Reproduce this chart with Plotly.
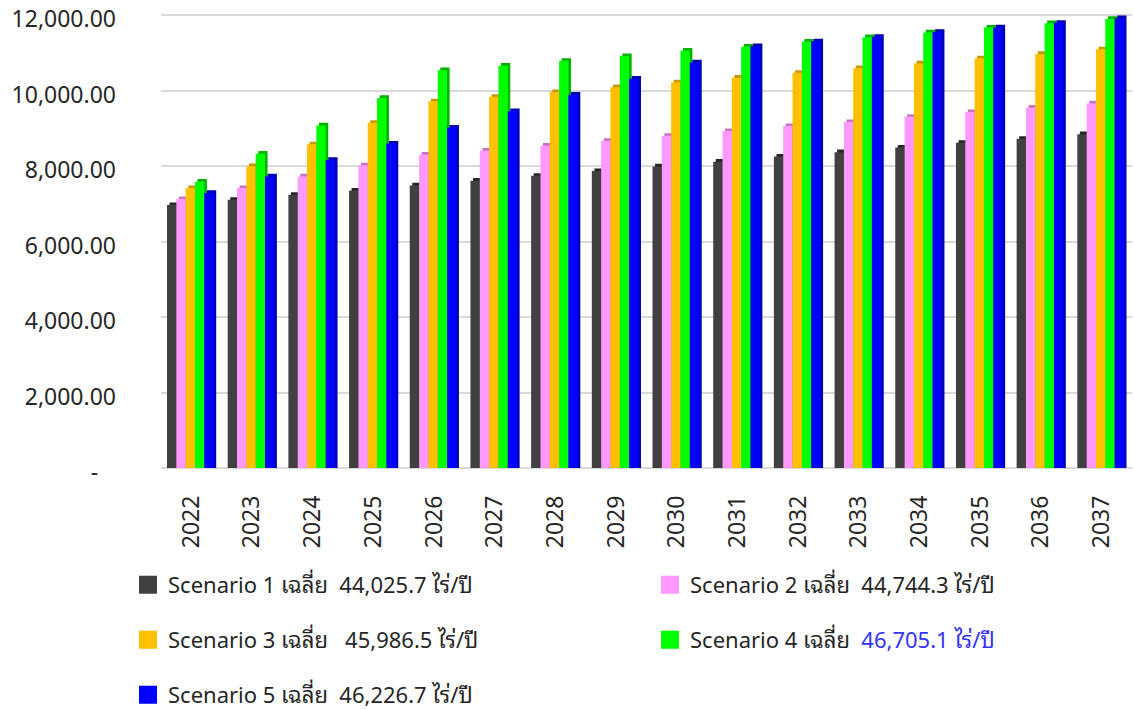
import plotly.graph_objects as go

years = [str(y) for y in range(2022, 2038)]

scenario1 = [6970, 7110, 7240, 7355, 7490, 7615, 7745, 7870, 7995, 8120, 8255, 8370, 8495, 8620, 8725, 8850]
scenario2 = [7130, 7420, 7728, 8020, 8305, 8410, 8545, 8670, 8805, 8930, 9065, 9170, 9310, 9435, 9550, 9665]
scenario3 = [7420, 8000, 8580, 9150, 9720, 9840, 9965, 10095, 10225, 10345, 10475, 10600, 10725, 10860, 10975, 11100]
scenario4 = [7590, 8330, 9080, 9810, 10545, 10665, 10795, 10920, 11065, 11170, 11305, 11420, 11545, 11675, 11790, 11905]
scenario5 = [7290, 7730, 8165, 8600, 9025, 9460, 9895, 10320, 10750, 11180, 11310, 11430, 11560, 11680, 11800, 11925]

legend_labels = [
    "Scenario 1 เฉลี่ย\u00a0 44,025.7 ไร่/ปี",
    "Scenario 2 เฉลี่ย\u00a0 44,744.3 ไร่/ปี",
    "Scenario 3 เฉลี่ย\u00a0\u00a0 45,986.5 ไร่/ปี",
    "Scenario 4 เฉลี่ย\u00a0 <span style='color:#3333ff'>46,705.1 ไร่/ปี</span>",
    "Scenario 5 เฉลี่ย\u00a0 46,226.7 ไร่/ปี",
]

ytick_vals = [0, 2000, 4000, 6000, 8000, 10000, 12000]
ytick_text = ["-\u00a0\u00a0\u00a0", "2,000.00", "4,000.00", "6,000.00", "8,000.00", "10,000.00", "12,000.00"]

series = [scenario1, scenario2, scenario3, scenario4, scenario5]
front_colors = ["#404040", "#ff99ff", "#ffc000", "#00ff00", "#0000ff"]
side_colors = ["#262626", "#c873c8", "#c99700", "#00b400", "#0000b4"]

FONT = "Noto Sans, Noto Sans Thai Looped, Loma, Garuda, Noto Sans Thai, Tahoma, sans-serif"

W, H = 1134, 709
ml, mr, mt, mb = 161, 2, 4, 234

y_range = [-186, 12300]
label_shift = 106  # labels sit a few px below the back-wall gridlines, as in the original 3D chart

bar_w = 0.1537
start = -0.401
depth_x = 0.042
depth_y = 70

fig = go.Figure()

for i, (vals, fc, sc) in enumerate(zip(series, front_colors, side_colors)):
    off = start + i * bar_w
    fig.add_trace(go.Bar(
        x=years, y=[v + depth_y for v in vals], width=bar_w, offset=off + depth_x,
        marker=dict(color=sc, line=dict(width=0)), showlegend=False, hoverinfo="skip",
    ))
    fig.add_trace(go.Bar(
        x=years, y=vals, width=bar_w, offset=off,
        marker=dict(color=fc, line=dict(width=0)), showlegend=False,
        name=legend_labels[i],
    ))

# legend entries (they also carry the label axis y2)
legend_pos = [(148, 585), (670, 585), (148, 640), (670, 640), (148, 695)]
for i, fc in enumerate(front_colors):
    lname = "legend" if i == 0 else f"legend{i+1}"
    fig.add_trace(go.Scatter(
        x=[None], y=[None], mode="markers", name=legend_labels[i], yaxis="y2",
        marker=dict(symbol="square", size=16, color=fc, line=dict(color=fc, width=2)),
        legend=lname, showlegend=True,
    ))

layout_legends = {}
for i, (px, py) in enumerate(legend_pos):
    lname = "legend" if i == 0 else f"legend{i+1}"
    layout_legends[lname] = dict(
        xref="container", yref="container",
        x=(px - 20) / W, y=1 - py / H,
        xanchor="left", yanchor="middle", bgcolor="rgba(0,0,0,0)",
        font=dict(family=FONT, size=22, color="#262626"),
    )

fig.update_layout(
    width=W, height=H,
    margin=dict(l=ml, r=mr, t=mt, b=mb, autoexpand=False),
    paper_bgcolor="white", plot_bgcolor="white",
    barmode="overlay",
    showlegend=True,
    **layout_legends,
    xaxis=dict(
        type="category", tickangle=-90, showgrid=False, showline=False, ticks="",
        tickfont=dict(family=FONT, size=23, color="#262626"),
        ticklabelstandoff=15, automargin=False,
    ),
    yaxis=dict(
        range=y_range, tickvals=ytick_vals, showticklabels=False,
        showgrid=True, gridcolor="#d9d9d9", gridwidth=2, zeroline=False, showline=False,
        automargin=False,
    ),
    yaxis2=dict(
        overlaying="y", side="left",
        range=[y_range[0] + label_shift, y_range[1] + label_shift],
        tickvals=ytick_vals, ticktext=ytick_text,
        showgrid=False, zeroline=False, showline=False,
        tickfont=dict(family=FONT, size=23, color="#262626"),
        ticklabelstandoff=44, automargin=False, ticklabeloverflow="allow",
    ),
)

fig.write_html("out.html", config={"displayModeBar": False},
               post_script="document.body.style.margin='0px';")
